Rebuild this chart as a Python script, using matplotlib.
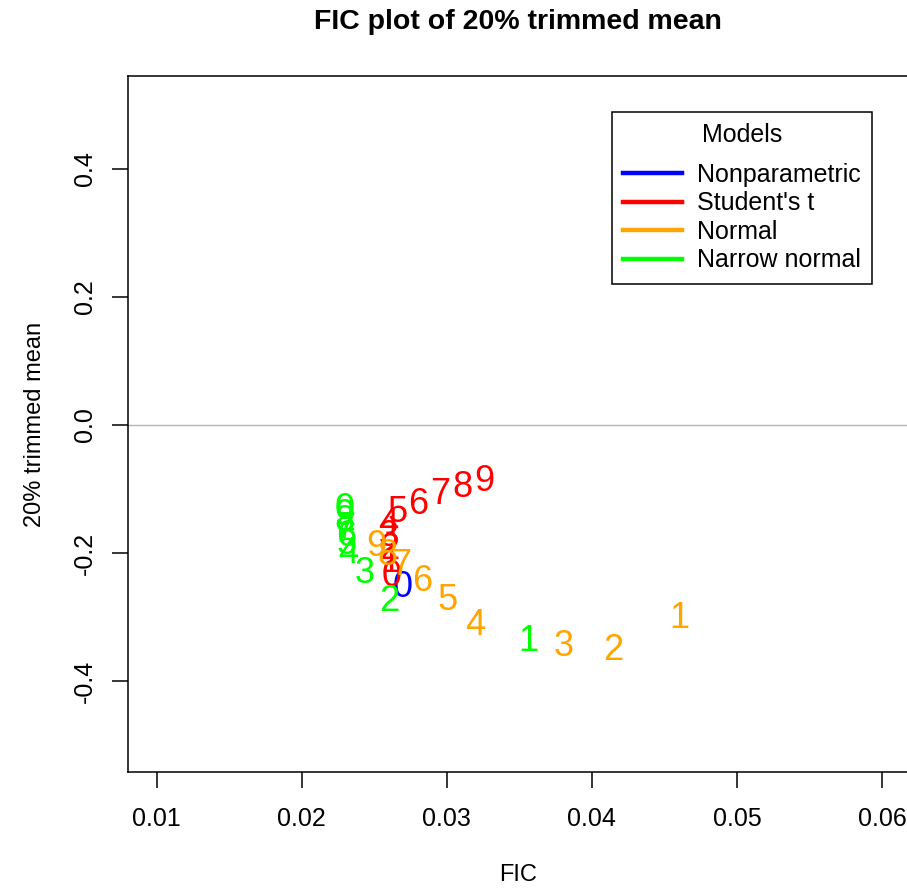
# FIC plot of 20% trimmed mean, four models
import matplotlib
matplotlib.use('Agg')
from matplotlib import pyplot as plt
from matplotlib.lines import Line2D
from matplotlib.transforms import offset_copy

plt.rcParams['font.family'] = ['Liberation Sans', 'DejaVu Sans']

# model names and colours
models = ['Nonparametric', "Student's t", 'Normal', 'Narrow normal']
colours = ['blue', 'red', 'orange', '#00FF00']

# nonparametric
np_fic = [0.02694]
np_est = [-0.248]
np_lab = ['0']

# student's t
t_fic = [0.02620, 0.02610, 0.02603, 0.02596, 0.02599, 0.02661, 0.02802, 0.02957, 0.03105, 0.03260]
t_est = [-0.231, -0.209, -0.189, -0.169, -0.150, -0.131, -0.119, -0.103, -0.092, -0.083]
t_lab = ['0', '1', '2', '3', '4', '5', '6', '7', '8', '9']

# normal
n_fic = [0.04600, 0.04148, 0.03804, 0.03198, 0.03005, 0.02833, 0.02687, 0.02592, 0.02515]
n_est = [-0.297, -0.347, -0.341, -0.308, -0.269, -0.239, -0.214, -0.198, -0.185]
n_lab = ['1', '2', '3', '4', '5', '6', '7', '8', '9']

# narrow normal
nn_fic = [0.03563, 0.02606, 0.02434, 0.02317, 0.02310, 0.02303, 0.02300, 0.02296, 0.02296, 0.02293]
nn_est = [-0.333, -0.270, -0.227, -0.195, -0.181, -0.169, -0.156, -0.145, -0.136, -0.127]
nn_lab = ['1', '2', '3', '4', '5', '6', '7', '8', '9', '0']

series = [(np_fic, np_est, np_lab), (t_fic, t_est, t_lab),
          (n_fic, n_est, n_lab), (nn_fic, nn_est, nn_lab)]

fig = plt.figure(figsize=(9.07, 8.88), dpi=100)
ax = fig.add_axes([128 / 907, 1 - 772 / 888, 781 / 907, 696 / 888])

ax.set_xlim(0.008024, 0.06186)
ax.set_ylim(-0.5422, 0.5453)

# reference line at zero
ax.axhline(0, color='#B4B4B4', lw=1.0, zorder=1)

# draw each model's points as digit labels, digits centred on the point
dsize = 26
dtrans = offset_copy(ax.transData, fig=fig, y=-0.358 * dsize, units='points')
for (fic, est, lab), col in zip(series, colours):
    for x, y, s in zip(fic, est, lab):
        ax.text(x, y, s, color=col, fontsize=dsize, ha='center', va='baseline',
                transform=dtrans, zorder=3)

# axes in base R style
ax.set_xticks([0.01, 0.02, 0.03, 0.04, 0.05, 0.06])
ax.set_xticklabels(['0.01', '0.02', '0.03', '0.04', '0.05', '0.06'])
ax.set_yticks([-0.4, -0.2, 0.0, 0.2, 0.4])
ax.set_yticklabels(['-0.4', '-0.2', '0.0', '0.2', '0.4'], rotation=90, va='center')
ax.tick_params(axis='both', direction='out', length=11.5, width=1.1, labelsize=18, colors='black')
ax.tick_params(axis='x', pad=14)
ax.tick_params(axis='y', pad=11)
for sp in ax.spines.values():
    sp.set_linewidth(1.1)

ax.set_xlabel('FIC', fontsize=17, va='center')
ax.xaxis.set_label_coords(0.5, -0.148)
ax.set_ylabel('20% trimmed mean', fontsize=17, va='center')
ax.yaxis.set_label_coords(-0.119, 0.5)

fig.text(517.5 / 907, 1 - 22 / 888, 'FIC plot of 20% trimmed mean', fontsize=20.5,
         fontweight='bold', ha='center', va='center')

# legend
handles = [Line2D([0], [0], color=c, lw=3.2) for c in colours]
leg = ax.legend(handles, models, title='Models', loc='upper right',
                bbox_to_anchor=(0.9526, 0.9483), borderaxespad=0,
                fontsize=18, title_fontsize=18,
                handlelength=2.36, handletextpad=0.6, labelspacing=0.18,
                borderpad=0.45, fancybox=False, framealpha=1, edgecolor='black')
leg.get_frame().set_linewidth(1.1)
# extra gap between the title and the entries
leg._legend_box.sep = 0.18 * 18 + 8

plt.savefig('out.png', dpi=100)
